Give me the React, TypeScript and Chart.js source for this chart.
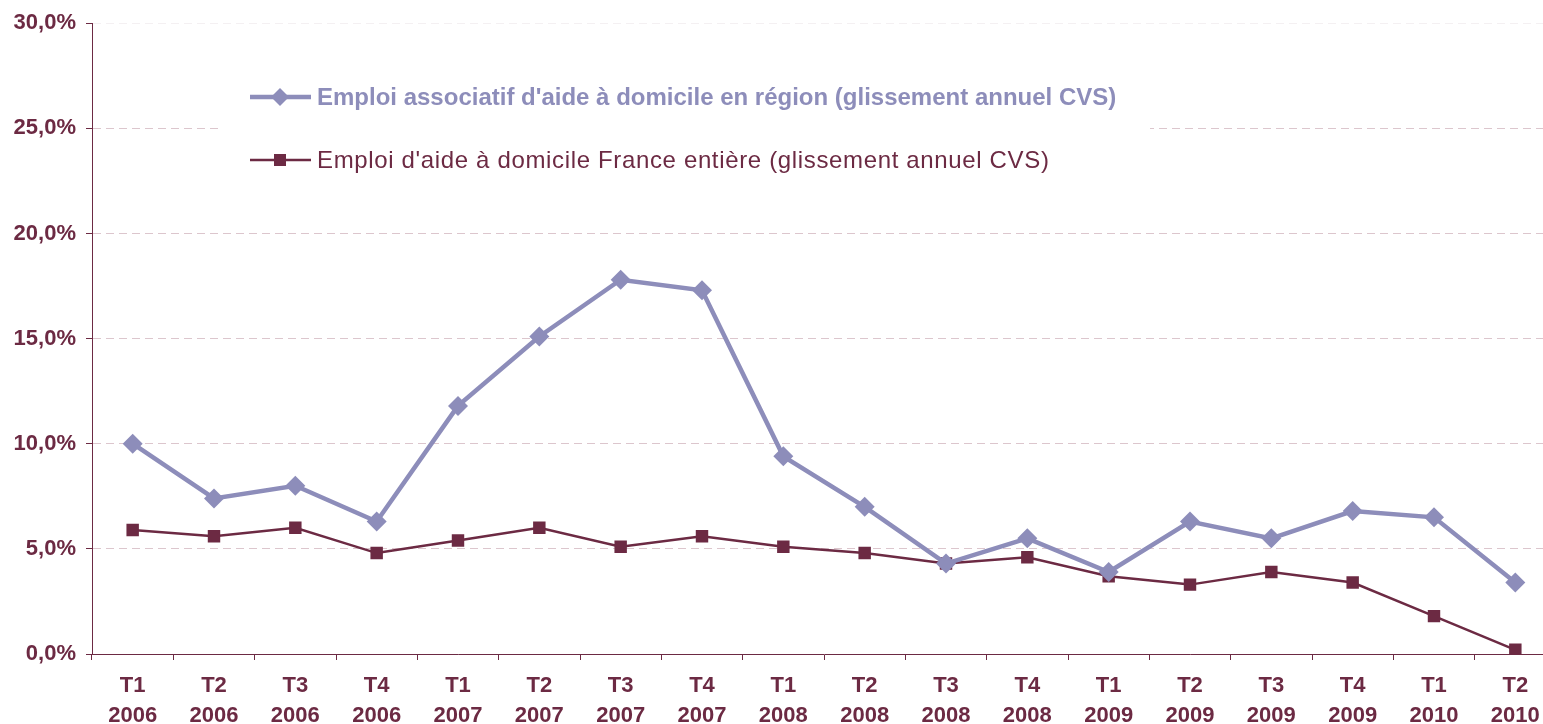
import React, { useEffect, useRef } from 'react';
import { Chart, registerables } from 'chart.js';

Chart.register(...registerables);

const quarters = ['T1', 'T2', 'T3', 'T4', 'T1', 'T2', 'T3', 'T4', 'T1', 'T2', 'T3', 'T4', 'T1', 'T2', 'T3', 'T4', 'T1', 'T2'];
const years = ['2006', '2006', '2006', '2006', '2007', '2007', '2007', '2007', '2008', '2008', '2008', '2008', '2009', '2009', '2009', '2009', '2010', '2010'];
const regionSeries = [10.0, 7.4, 8.0, 6.3, 11.8, 15.1, 17.8, 17.3, 9.4, 7.0, 4.3, 5.5, 3.9, 6.3, 5.5, 6.8, 6.5, 3.4];
const franceSeries = [5.9, 5.6, 6.0, 4.8, 5.4, 6.0, 5.1, 5.6, 5.1, 4.8, 4.3, 4.6, 3.7, 3.3, 3.9, 3.4, 1.8, 0.2];
const yTicks = [0, 5, 10, 15, 20, 25, 30];
const seriesLabels = [
  "Emploi associatif d'aide à domicile en région (glissement annuel CVS)",
  "Emploi d'aide à domicile France entière (glissement annuel CVS)",
];

const MAROON = '#6c2a43';
const LAVENDER = '#8d8dba';
const GRID = '#dcc6cd';
const FONT = "'Liberation Sans', Arial, sans-serif";

const overlayLegend = {
  id: 'overlayLegend',
  beforeDatasetsDraw(chart: any) {
    const { ctx } = chart;
    ctx.save();
    ctx.fillStyle = '#ffffff';
    ctx.fillRect(218, 68, 932, 124);
    chart.data.datasets.forEach((ds: any, i: number) => {
      const y = i === 0 ? 97 : 160;
      ctx.strokeStyle = ds.borderColor;
      ctx.lineWidth = i === 0 ? 4.5 : 2.5;
      ctx.beginPath();
      ctx.moveTo(250, y);
      ctx.lineTo(311, y);
      ctx.stroke();
      ctx.fillStyle = ds.backgroundColor;
      const cx = 280;
      if (ds.pointStyle === 'rectRot') {
        const r = 9;
        ctx.beginPath();
        ctx.moveTo(cx, y - r);
        ctx.lineTo(cx + r, y);
        ctx.lineTo(cx, y + r);
        ctx.lineTo(cx - r, y);
        ctx.closePath();
        ctx.fill();
      } else {
        ctx.fillRect(cx - 6, y - 6, 12, 12);
      }
      ctx.font = (i === 0 ? 'bold ' : '') + '24px ' + FONT;
      try {
        (ctx as any).letterSpacing = i === 0 ? '0px' : '0.65px';
      } catch (e) {}
      ctx.fillStyle = ds.borderColor;
      ctx.textBaseline = 'middle';
      ctx.textAlign = 'left';
      ctx.fillText(ds.label, 317, y + 1);
      try {
        (ctx as any).letterSpacing = '0px';
      } catch (e) {}
    });
    ctx.restore();
  },
};

export default function App() {
  const ref = useRef<HTMLCanvasElement>(null);
  useEffect(() => {
    if (!ref.current) return;
    const chart = new Chart(ref.current, {
      type: 'line',
      data: {
        labels: quarters.map((q, i) => [q, years[i]]),
        datasets: [
          {
            label: seriesLabels[0],
            data: regionSeries,
            borderColor: LAVENDER,
            backgroundColor: LAVENDER,
            borderWidth: 4.5,
            pointStyle: 'rectRot',
            pointRadius: 10,
            pointBorderWidth: 0,
            pointBackgroundColor: LAVENDER,
            tension: 0,
          },
          {
            label: seriesLabels[1],
            data: franceSeries,
            borderColor: MAROON,
            backgroundColor: MAROON,
            borderWidth: 2.5,
            pointStyle: 'rect',
            pointRadius: 8.8,
            pointBorderWidth: 0,
            pointBackgroundColor: MAROON,
            tension: 0,
          },
        ],
      },
      options: {
        animation: false,
        responsive: false,
        maintainAspectRatio: false,
        layout: { padding: { left: 0, right: 24, top: 22, bottom: 0 } },
        plugins: { legend: { display: false }, tooltip: { enabled: false } },
        scales: {
          x: {
            offset: true,
            grid: { offset: true, drawOnChartArea: false, color: MAROON, tickLength: 6 },
            border: { color: MAROON, width: 1 },
            ticks: {
              color: MAROON,
              font: { family: FONT, size: 22, weight: 'bold', lineHeight: 1.36 },
              padding: 11,
              maxRotation: 0,
              autoSkip: false,
            },
            afterFit: (s: any) => {
              s.height = 70;
            },
          },
          y: {
            min: 0,
            max: 30,
            afterBuildTicks: (s: any) => {
              s.ticks = yTicks.map((v) => ({ value: v }));
            },
            ticks: {
              color: MAROON,
              font: { family: FONT, size: 22, weight: 'bold' },
              padding: 10,
              callback: (v: any) => Number(v).toFixed(1).replace('.', ',') + '%',
            },
            grid: {
              color: (c: any) =>
                c.tick && c.tick.value === 0 ? 'rgba(0,0,0,0)' : c.tick && c.tick.value === 30 ? '#f4f0f2' : GRID,
              tickColor: MAROON,
              tickLength: 6,
              lineWidth: 1,
            },
            border: { color: MAROON, width: 1, dash: [8, 5] },
            afterFit: (s: any) => {
              s.width = 92;
            },
          },
        },
      },
      plugins: [overlayLegend],
    });
    return () => chart.destroy();
  }, []);
  return (
    <div
      style={{
        position: 'fixed',
        left: 0,
        top: 0,
        width: 1543,
        height: 724,
        overflow: 'hidden',
        background: '#ffffff',
      }}
    >
      <canvas ref={ref} width={1580} height={724} style={{ display: 'block' }} />
    </div>
  );
}
